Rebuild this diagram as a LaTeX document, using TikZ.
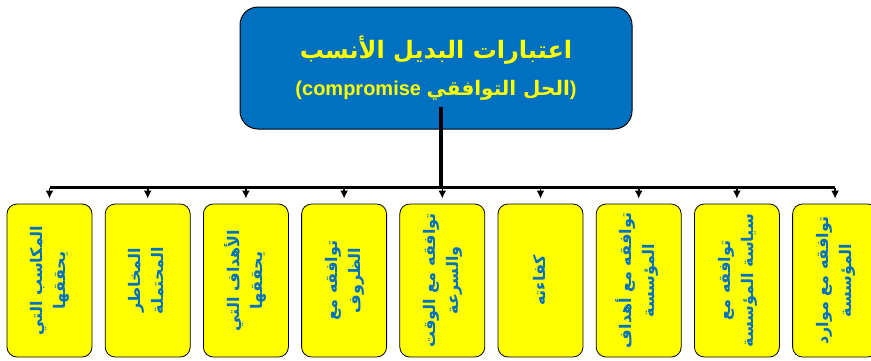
\documentclass[tikz,border=0pt]{standalone}
\usepackage{fontspec}
\newfontfamily\arabicfont[Script=Arabic]{DejaVu Sans}
\newfontfamily\latinfont{Liberation Sans}
\TeXXeTstate=1
\usetikzlibrary{arrows.meta}
\definecolor{hdrblue}{HTML}{0070C0}
\definecolor{boxyellow}{HTML}{FFFF00}
\newcommand{\arline}[1]{{\arabicfont\bfseries\beginR #1\endR}}
\newcommand{\vtext}[1]{\rotatebox{90}{\begin{tabular}{@{}c@{}}#1\end{tabular}}}

\begin{document}
\begin{tikzpicture}[x=1pt, y=-1pt,
		hdr/.style = {draw, fill=hdrblue, rounded corners=18pt, line width=1pt, minimum width=392pt, minimum height=122pt, align=center, text=boxyellow},
		item/.style = {draw, fill=boxyellow, rounded corners=10pt, line width=0.8pt, minimum width=85pt, minimum height=153pt, inner sep=0pt, text=hdrblue, font=\fontsize{16}{23}\selectfont},
		bar/.style = {line width=2.5pt},
		stemline/.style = {line width=4pt},
		arr/.style = {->, line width=1.6pt, shorten >=5pt},
		>={Latex[length=8pt, width=8pt]}
	]
	\useasboundingbox (0,0) rectangle (871,360);

	\node[hdr] (title) at (436,68) {{\arabicfont\bfseries\fontsize{24}{30}\selectfont\beginR اعتبارات البديل الأنسب\endR}\\[15pt]
		{\latinfont\bfseries\fontsize{20}{24}\selectfont (compromise \arline{الحل التوافقي})}};

	\node[item] (b1) at (49.5,280.5)  {\vtext{\arline{المكاسب التي}\\\arline{يحققها}}};
	\node[item] (b2) at (147.7,280.5) {\vtext{\arline{المخاطر}\\\arline{المحتملة}}};
	\node[item] (b3) at (245.9,280.5) {\vtext{\arline{الأهداف التي}\\\arline{يحققها}}};
	\node[item] (b4) at (344.1,280.5) {\vtext{\arline{توافقه مع}\\\arline{الظروف}}};
	\node[item] (b5) at (442.3,280.5) {\vtext{\arline{توافقه مع الوقت}\\\arline{والسرعة}}};
	\node[item] (b6) at (540.5,280.5) {\vtext{\arline{كفاءته}}};
	\node[item] (b7) at (638.7,280.5) {\vtext{\arline{توافقه مع أهداف}\\\arline{المؤسسة}}};
	\node[item] (b8) at (736.9,280.5) {\vtext{\arline{توافقه مع}\\\arline{سياسة المؤسسة}}};
	\node[item] (b9) at (835.1,280.5) {\vtext{\arline{توافقه مع موارد}\\\arline{المؤسسة}}};

	\coordinate (barL) at ([yshift=16pt]b1.north);
	\coordinate (barR) at ([yshift=16pt]b9.north);
	\coordinate (stem) at (441,107);

	\draw[stemline] (stem) -- (stem |- barL);
	\draw[bar] (barL) -- (barR);
	\draw[arr] (barL) -- (b1.north);
	\draw[arr] (b2.north |- barL) -- (b2.north);
	\draw[arr] (b3.north |- barL) -- (b3.north);
	\draw[arr] (b4.north |- barL) -- (b4.north);
	\draw[arr] (b5.north |- barL) -- (b5.north);
	\draw[arr] (b6.north |- barL) -- (b6.north);
	\draw[arr] (b7.north |- barL) -- (b7.north);
	\draw[arr] (b8.north |- barL) -- (b8.north);
	\draw[arr] (barR) -- (b9.north);
\end{tikzpicture}
\end{document}
